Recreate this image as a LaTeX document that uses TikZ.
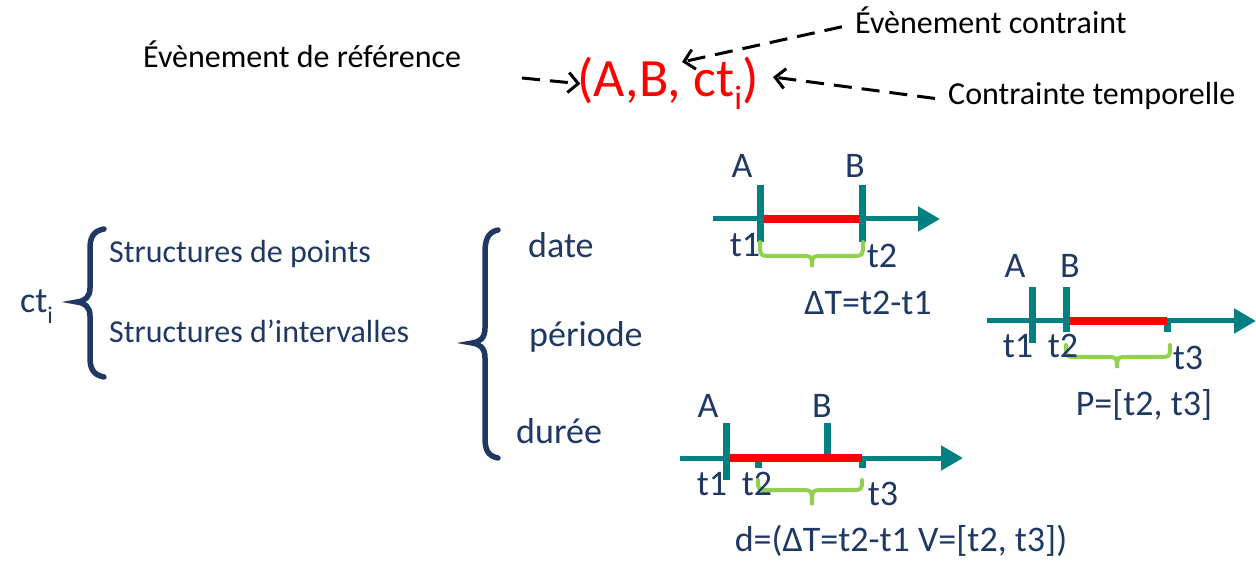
\documentclass[tikz,border=0pt]{standalone}
\usepackage{fontspec}
\setmainfont{Carlito}
\usetikzlibrary{arrows.meta}
\definecolor{navy}{RGB}{31,56,100}
\definecolor{myteal}{RGB}{0,128,128}
\definecolor{mygreen}{RGB}{146,208,80}
\newcommand{\mysub}[3]{\raisebox{-#2pt}{\fontsize{#1}{#1}\selectfont #3}}
\begin{document}
\begin{tikzpicture}[x=1pt,y=-1pt,
  blk/.style={font=\fontsize{32}{38}\selectfont, inner sep=0, anchor=base west},
  nv/.style={font=\fontsize{36}{43}\selectfont, text=navy, inner sep=0},
  blu/.style={font=\fontsize{36}{43}\selectfont, text=navy, inner sep=0, anchor=base},
  axisline/.style={myteal, line width=5pt, -{Triangle[length=22pt,width=24pt]}},
  tk/.style={myteal, line width=7pt},
  seg/.style={red, line width=8pt},
  gbrace/.style={mygreen, line width=4pt, line cap=round},
  nbrace/.style={navy, line width=5.5pt, line cap=round},
  darr/.style={black, line width=3pt, dash pattern=on 18pt off 10pt, -{Straight Barb[length=10pt,width=20pt]}}]
\useasboundingbox (0,0) rectangle (1256,561);

% top part
\node[blk] (ref) at (143,68) {Évènement de référence};
\node[blk] (contraint) at (855,34) {Évènement contraint};
\node[blk] (temp) at (948,105) {Contrainte temporelle};
\node[font=\fontsize{54}{62}\selectfont, text=red, inner sep=0, anchor=base] (triple) at (668,97) {(A,B, ct\mysub{34}{13}{i})};
\coordinate (s1) at (522,78);
\coordinate (tipB) at (682,62);
\coordinate (tipC) at (773,77);
\draw[darr] (s1) -- ([xshift=3pt]triple.west);
\draw[darr] ([xshift=-13pt,yshift=-6pt]contraint.west) -- (tipB);
\draw[darr] ([xshift=-13pt,yshift=-2pt]temp.west) -- (tipC);

% left structures
\node[nv, anchor=base west] (cti) at (20,313) {ct\mysub{24}{10}{i}};
\node[blk, text=navy] (sp) at (109,263) {Structures de points};
\node[blk, text=navy] (si) at (109,343) {Structures d’intervalles};
\draw[nbrace] (104,229) .. controls (93,231) and (90,238) .. (90,248) -- (90,288)
  .. controls (90,297) and (85,301) .. (77,302) .. controls (85,303) and (90,307) .. (90,316)
  -- (90,358) .. controls (90,368) and (93,375) .. (104,377);

\node[nv, anchor=base west] (date) at (528,258) {date};
\node[nv, anchor=base west] (periode) at (529,347) {période};
\node[nv, anchor=base west] (duree) at (516,443) {durée};
\draw[nbrace] (498,230) .. controls (488,232) and (485,240) .. (485,252) -- (485,328)
  .. controls (485,338) and (480,342) .. (472,343) .. controls (480,344) and (485,348) .. (485,358)
  -- (485,438) .. controls (485,450) and (488,456) .. (498,458);

% timeline 1 (date)
\draw[axisline] (713,219) -- (940,219);
\draw[tk] (760,185) -- (760,242);
\draw[tk] (862,185) -- (862,242);
\draw[seg] (763.5,219) -- (858.5,219);
\draw[gbrace] (760,242) .. controls (760,256) .. (772,256) -- (800,256)
  .. controls (812,256) .. (812,267) .. controls (812,256) .. (824,256) -- (851,256)
  .. controls (863,256) .. (863,242);
\node[blu] (a1) at (742,178) {A};
\node[blu] (b1) at (855,178) {B};
\node[blu] (t11) at (745,257) {t1};
\node[blu] (t21) at (882,268) {t2};
\node[blu] (dt) at (868,315) {ΔT=t2-t1};

% timeline 2 (periode)
\draw[axisline] (987,321) -- (1256,321);
\draw[tk] (1032,287) -- (1032,343);
\draw[tk] (1066,287) -- (1066,332);
\draw[tk] (1167,321) -- (1167,332);
\draw[seg] (1069.5,321) -- (1167,321);
\draw[gbrace] (1066,345) .. controls (1066,357) .. (1078,357) -- (1105,357)
  .. controls (1117,357) .. (1117,368) .. controls (1117,357) .. (1129,357) -- (1158,357)
  .. controls (1170,357) .. (1170,345);
\node[blu] (a2) at (1015,278) {A};
\node[blu] (b2) at (1070,278) {B};
\node[blu] (t12) at (1018,358) {t1};
\node[blu] (t22) at (1063,358) {t2};
\node[blu] (t32) at (1188,370) {t3};
\node[blu] (p) at (1144,415) {P=[t2, t3]};

% timeline 3 (duree)
\draw[axisline] (680,458) -- (963,458);
\draw[tk] (726,423) -- (726,480);
\draw[tk] (827,423) -- (827,458);
\draw[tk] (758,458) -- (758,468);
\draw[tk] (862,458) -- (862,468);
\draw[seg] (729.5,458) -- (862,458);
\draw[gbrace] (758,480) .. controls (758,490) .. (770,490) -- (800,490)
  .. controls (812,490) .. (812,505) .. controls (812,490) .. (824,490) -- (850,490)
  .. controls (862,490) .. (862,480);
\node[blu] (a3) at (708,417) {A};
\node[blu] (b3) at (822,417) {B};
\node[blu] (t13) at (712,495) {t1};
\node[blu] (t23) at (757,495) {t2};
\node[blu] (t33) at (883,505) {t3};
\node[blu] (d) at (901,551) {d=(ΔT=t2-t1 V=[t2, t3])};
\end{tikzpicture}
\end{document}
